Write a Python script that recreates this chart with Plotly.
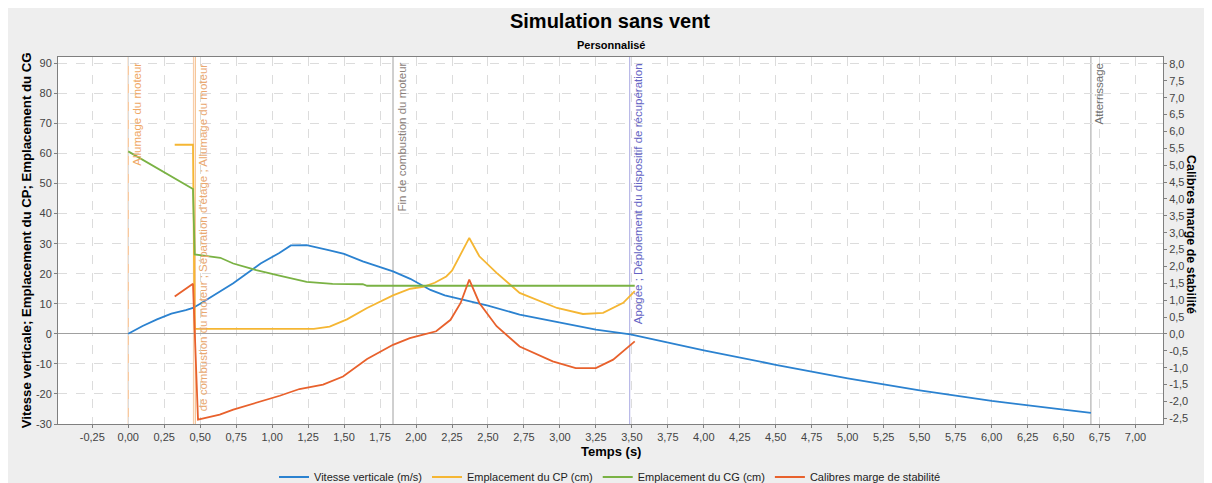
import plotly.graph_objects as go

# ---------------- data ----------------
t_vitesse = [0.0, 0.1, 0.2, 0.3, 0.4, 0.45, 0.5, 0.64, 0.73, 0.92, 1.05, 1.13, 1.24, 1.4, 1.5,
             1.63, 1.84, 1.96, 2.05, 2.1, 2.2, 2.38, 2.5, 2.72, 3.0, 3.25, 3.49, 4.0, 4.5, 5.0,
             5.5, 6.0, 6.5, 6.69]
vitesse = [0.0, 2.6, 4.8, 6.7, 7.9, 8.6, 10.0, 14.0, 16.8, 23.4, 26.9, 29.4, 29.5, 27.8, 26.6,
           24.1, 20.8, 18.3, 15.8, 14.6, 12.8, 10.8, 9.4, 6.4, 3.7, 1.4, -0.2, -5.5, -10.3, -14.8,
           -18.8, -22.3, -25.2, -26.3]

t_cp = [0.323, 0.45, 0.462, 1.0, 1.29, 1.40, 1.52, 1.66, 1.84, 1.96, 2.05, 2.13, 2.21, 2.25,
        2.29, 2.37, 2.44, 2.56, 2.72, 2.98, 3.16, 3.30, 3.44, 3.52]
cp = [62.9, 62.9, 1.66, 1.66, 1.66, 2.4, 4.8, 8.6, 12.8, 15.0, 15.6, 17.0, 19.1, 21.0,
      24.7, 31.9, 25.8, 20.3, 13.6, 8.6, 6.6, 7.0, 10.3, 14.2]

t_cg = [0.0, 0.1, 0.2, 0.3, 0.45, 0.462, 0.64, 0.73, 0.89, 1.05, 1.24, 1.42, 1.63, 1.66, 3.52]
cg = [60.7, 57.9, 55.1, 52.4, 48.2, 26.4, 25.3, 23.4, 21.2, 19.4, 17.3, 16.6, 16.5, 16.0, 16.0]

t_marge = [0.323, 0.45, 0.485, 0.636, 0.73, 0.965, 1.053, 1.19, 1.354, 1.493, 1.66, 1.84,
           1.957, 2.05, 2.14, 2.24, 2.31, 2.37, 2.44, 2.56, 2.72, 2.95, 3.11, 3.25, 3.37, 3.52]
marge = [1.11, 1.49, -2.54, -2.39, -2.24, -1.95, -1.83, -1.63, -1.50, -1.26, -0.74, -0.32,
         -0.12, -0.02, 0.08, 0.42, 0.92, 1.61, 0.92, 0.23, -0.37, -0.81, -1.01, -1.01, -0.76, -0.22]

event_times = [0.0, 0.453, 0.466, 1.84, 3.485, 6.69]
event_labels = ["Allumage du moteur", "",
                "de combustion du moteur ; Séparation d'étage ; Allumage du moteur",
                "Fin de combustion du moteur",
                "Apogée ; Déploiement du dispositif de récupération",
                "Atterrissage"]
event_line_colors = ["#F4B57C", "#F7C9A0", "#F4B57C", "#A0A0A0", "#A9A9E2", "#A0A0A0"]
event_text_colors = ["#EFA865", "#EFA865", "#E9A870", "#8A807A", "#6464C4", "#707070"]

x_ticks = [i * 0.25 for i in range(-1, 29)]
x_tick_labels = [f"{v:.2f}".replace(".", ",") for v in x_ticks]
y_ticks = list(range(-30, 91, 10))
y_tick_labels = [str(v) for v in y_ticks]
y2_ticks = [i * 0.5 for i in range(-5, 17)]
y2_tick_labels = [f"{v:.1f}".replace(".", ",") for v in y2_ticks]

FONT = "Liberation Sans, Arial, sans-serif"

fig = go.Figure()
fig.add_trace(go.Scatter(x=t_vitesse, y=vitesse, mode="lines", name="Vitesse verticale (m/s)",
                         line=dict(color="#2B82D0", width=1.8)))
fig.add_trace(go.Scatter(x=t_cp, y=cp, mode="lines", name="Emplacement du CP (cm)",
                         line=dict(color="#F5B633", width=1.8)))
fig.add_trace(go.Scatter(x=t_cg, y=cg, mode="lines", name="Emplacement du CG (cm)",
                         line=dict(color="#7AB244", width=1.8)))
fig.add_trace(go.Scatter(x=t_marge, y=marge, mode="lines", name="Calibres marge de stabilité",
                         line=dict(color="#E8612C", width=1.8), yaxis="y2"))

for t, lab, lc, tc in zip(event_times, event_labels, event_line_colors, event_text_colors):
    fig.add_shape(type="line", xref="x", yref="paper", x0=t, x1=t, y0=0, y1=1,
                  line=dict(color=lc, width=1), layer="below")
    if lab:
        fig.add_annotation(x=t, xref="x", y=1, yref="paper", text=lab, textangle=-90,
                           showarrow=False, xanchor="left", yanchor="top", xshift=0, yshift=-4,
                           font=dict(family=FONT, size=11.5, color=tc))

axis_common = dict(showline=True, linecolor="#7F7F7F", linewidth=1, ticks="outside", ticklen=3,
                   tickcolor="#7F7F7F", tickfont=dict(family=FONT, size=11, color="#444444"),
                   automargin=False)

fig.update_layout(
    width=1204, height=475,
    margin=dict(l=50, r=49, t=49, b=59, autoexpand=False),
    paper_bgcolor="#EEEEEE", plot_bgcolor="#FFFFFF",
    font=dict(family=FONT),
    title=dict(text="<b>Simulation sans vent</b>", x=0.5, xanchor="center",
               y=1 - 13 / 475, yref="container", yanchor="middle",
               font=dict(family=FONT, size=20, color="#000000")),
    xaxis=dict(range=[-0.488, 7.191], tickmode="array", tickvals=x_ticks, ticktext=x_tick_labels,
               showgrid=True, gridcolor="#DCDCDC", griddash="dash", gridwidth=1, zeroline=False,
               mirror=True, **axis_common),
    yaxis=dict(range=[-30, 92.1], tickmode="array", tickvals=y_ticks, ticktext=y_tick_labels,
               showgrid=True, gridcolor="#DCDCDC", griddash="dash", gridwidth=1,
               zeroline=True, zerolinecolor="#A0A0A0", zerolinewidth=1, **axis_common),
    yaxis2=dict(range=[-2.667, 8.207], tickmode="array", tickvals=y2_ticks, ticktext=y2_tick_labels,
                overlaying="y", side="right", showgrid=False, zeroline=False, **axis_common),
    showlegend=True,
    legend=dict(orientation="h", x=0.5, xanchor="center", xref="container",
                y=6 / 475, yref="container", yanchor="middle",
                font=dict(family=FONT, size=11, color="#222222"), bgcolor="rgba(0,0,0,0)",
                itemwidth=30, tracegroupgap=0),
)

fig.add_annotation(text="<b>Personnalisé</b>", x=0.5, xref="paper", y=1.0335, yref="paper",
                   showarrow=False, xanchor="center", yanchor="middle",
                   font=dict(family=FONT, size=11, color="#000000"))
fig.add_annotation(text="<b>Temps (s)</b>", x=0.5, xref="paper", y=-0.0755, yref="paper",
                   showarrow=False, xanchor="center", yanchor="middle",
                   font=dict(family=FONT, size=13, color="#000000"))
fig.add_annotation(text="<b>Vitesse verticale; Emplacement du CP; Emplacement du CG</b>",
                   x=-0.0283, xref="paper", y=0.5, yref="paper", textangle=-90,
                   showarrow=False, xanchor="center", yanchor="middle",
                   font=dict(family=FONT, size=13.2, color="#000000"))
fig.add_annotation(text="<b>Calibres marge de stabilité</b>",
                   x=1.026, xref="paper", y=0.516, yref="paper", textangle=90,
                   showarrow=False, xanchor="center", yanchor="middle",
                   font=dict(family=FONT, size=12.5, color="#000000"))

fig.write_html("out.html")
